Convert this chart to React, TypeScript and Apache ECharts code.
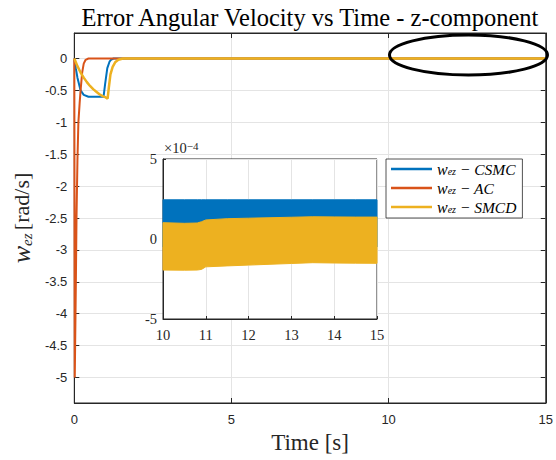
import React, { useEffect, useRef } from "react";
import * as echarts from "echarts";

// Main plot data (time in s, error angular velocity z-component in rad/s)
const tCSMC = [0, 0.05, 0.1, 0.2, 0.3, 0.45, 0.7, 0.93, 0.98, 1.05, 1.12, 1.18, 1.25, 15];
const wCSMC = [0, -0.16, -0.3, -0.5, -0.57, -0.6, -0.6, -0.6, -0.4, -0.15, -0.05, -0.015, 0, 0];

const tAC = [0, 0.015, 0.035, 0.05, 0.07, 0.1, 0.13, 0.17, 0.2, 0.25, 0.3, 0.36, 0.45, 15];
const wAC = [0, -5, -5, -3.5, -2.5, -1.6, -1.0, -0.7, -0.5, -0.22, -0.08, -0.02, 0, 0];

const tSMCD = [0, 0.1, 0.2, 0.3, 0.4, 0.5, 0.6, 0.7, 0.8, 0.9, 1.0, 1.06, 1.1, 1.15, 1.22, 1.3, 1.4, 1.55, 15];
const wSMCD = [0, -0.12, -0.22, -0.3, -0.37, -0.43, -0.48, -0.52, -0.56, -0.59, -0.61, -0.63, -0.45, -0.25, -0.13, -0.06, -0.02, 0, 0];

// Inset data (10..15 s), oscillation envelopes
const tInset = [10, 10.5, 10.8, 10.9, 11, 11.5, 12, 12.5, 13, 13.5, 14, 14.5, 15];
const csmcUpper = [2.45e-4, 2.45e-4, 2.45e-4, 2.45e-4, 2.45e-4, 2.45e-4, 2.45e-4, 2.45e-4, 2.45e-4, 2.45e-4, 2.45e-4, 2.45e-4, 2.45e-4];
const csmcLower = [-0.5e-4, -0.5e-4, -0.5e-4, -0.5e-4, -0.5e-4, -0.5e-4, -0.5e-4, -0.5e-4, -0.5e-4, -0.5e-4, -0.5e-4, -0.5e-4, -0.5e-4];
const smcdUpper = [1.02e-4, 0.98e-4, 1.0e-4, 1.08e-4, 1.19e-4, 1.27e-4, 1.3e-4, 1.33e-4, 1.36e-4, 1.39e-4, 1.38e-4, 1.37e-4, 1.37e-4];
const smcdLower = [-1.94e-4, -1.95e-4, -1.94e-4, -1.9e-4, -1.74e-4, -1.68e-4, -1.63e-4, -1.58e-4, -1.53e-4, -1.48e-4, -1.5e-4, -1.51e-4, -1.52e-4];

const xTicksMain = [0, 5, 10, 15];
const yTicksMain = [-5, -4.5, -4, -3.5, -3, -2.5, -2, -1.5, -1, -0.5, 0];
const insetXTicks = [10, 11, 12, 13, 14, 15];
const insetYTicks = [-5e-4, 0, 5e-4];

const legendLabels: Record<string, string> = { CSMC: "CSMC", AC: "AC", SMCD: "SMCD" };

const BLUE = "#0072BD";
const RED = "#D95319";
const YELLOW = "#EDB120";
const AXIS = "#262626";
const GRIDC = "#e4e4e4";

function zip(t: number[], v: number[]) {
  return t.map((x, i) => [x, v[i]]);
}

function bandSeries(name: string, upper: number[], lower: number[], color: string, z: number) {
  return {
    type: "custom",
    name,
    xAxisIndex: 2,
    yAxisIndex: 2,
    z,
    data: [[tInset[0], upper[0]]],
    encode: { x: 0, y: 1 },
    renderItem: (params: any, api: any) => {
      const pts: number[][] = [];
      for (let i = 0; i < tInset.length; i++) pts.push(api.coord([tInset[i], upper[i]]));
      for (let i = tInset.length - 1; i >= 0; i--) pts.push(api.coord([tInset[i], lower[i]]));
      return {
        type: "polygon",
        shape: { points: pts },
        style: { fill: color, stroke: color, lineWidth: 1 },
      };
    },
  };
}

export default function App() {
  const ref = useRef<HTMLDivElement>(null);
  useEffect(() => {
    document.body.style.margin = "0";
    if (!ref.current) return;
    const chart = echarts.init(ref.current, undefined, { renderer: "svg" });
    const serif = "Liberation Serif";
    const sans = "Liberation Sans";
    const option: any = {
      animation: false,
      backgroundColor: "#fff",
      title: {
        text: "Error Angular Velocity vs Time - z-component",
        left: 305,
        textAlign: "center",
        top: 0,
        textStyle: { fontFamily: serif, fontSize: 24.5, fontWeight: "normal", color: "#000" },
      },
      grid: [
        { left: 74, top: 33, width: 474, height: 370, show: true, borderColor: AXIS, borderWidth: 1, backgroundColor: "#fff", z: 0 },
        { left: 163, top: 159, width: 214, height: 160, show: true, borderColor: AXIS, borderWidth: 1, backgroundColor: "#fff", z: 5 },
      ],
      legend: {
        data: ["CSMC", "AC", "SMCD"],
        orient: "vertical",
        left: 386,
        top: 159,
        padding: [2, 6, 3, 5],
        itemGap: 3,
        itemWidth: 41,
        itemHeight: 2.5,
        icon: "rect",
        borderColor: AXIS,
        borderWidth: 0.8,
        backgroundColor: "#fff",
        z: 10,
        formatter: (name: string) => `{w|w}{s|ez}{t| − ${legendLabels[name]}}`,
        textStyle: {
          rich: {
            w: { fontFamily: serif, fontStyle: "italic", fontSize: 16, color: "#000", lineHeight: 15 },
            s: { fontFamily: serif, fontStyle: "italic", fontSize: 10, color: "#000", verticalAlign: "bottom", lineHeight: 15 },
            t: { fontFamily: serif, fontStyle: "italic", fontSize: 15.5, color: "#000", lineHeight: 15 },
          },
        },
      },
      xAxis: [
        {
          gridIndex: 0,
          type: "value",
          min: 0,
          max: 15,
          interval: 5,
          name: "Time [s]",
          nameLocation: "middle",
          nameGap: 24,
          nameTextStyle: { fontFamily: serif, fontSize: 23, color: AXIS },
          axisLine: { onZero: false, lineStyle: { color: AXIS } },
          axisTick: { inside: true, length: 5, lineStyle: { color: AXIS }, customValues: xTicksMain },
          axisLabel: { fontFamily: sans, fontSize: 13, color: AXIS, margin: 10, customValues: xTicksMain },
          splitLine: { show: true, lineStyle: { color: GRIDC } },
        },
        {
          gridIndex: 0,
          type: "value",
          position: "top",
          min: 0,
          max: 15,
          interval: 5,
          axisLine: { onZero: false, lineStyle: { color: AXIS } },
          axisTick: { inside: true, length: 5, lineStyle: { color: AXIS } },
          axisLabel: { show: false },
          splitLine: { show: false },
        },
        {
          gridIndex: 1,
          type: "value",
          min: 10,
          max: 15,
          interval: 1,
          z: 6,
          axisLine: { onZero: false, lineStyle: { color: AXIS } },
          axisTick: { inside: true, length: 3, lineStyle: { color: AXIS }, customValues: insetXTicks },
          axisLabel: { fontFamily: serif, fontSize: 14.5, color: AXIS, margin: 8, customValues: insetXTicks },
          splitLine: { show: true, lineStyle: { color: GRIDC } },
        },
      ],
      yAxis: [
        {
          gridIndex: 0,
          type: "value",
          min: -5.4,
          max: 0.4,
          name: "{w|w}{s|ez} {t|[rad/s]}",
          nameLocation: "middle",
          nameRotate: 90,
          nameGap: 36,
          nameTextStyle: {
            rich: {
              w: { fontFamily: serif, fontStyle: "italic", fontSize: 26, color: AXIS },
              s: { fontFamily: serif, fontStyle: "italic", fontSize: 15, color: AXIS, verticalAlign: "bottom" },
              t: { fontFamily: serif, fontSize: 22, color: AXIS },
            },
          },
          axisLine: { onZero: false, lineStyle: { color: AXIS } },
          axisTick: { inside: true, length: 5, lineStyle: { color: AXIS }, customValues: yTicksMain },
          axisLabel: { fontFamily: sans, fontSize: 13, color: AXIS, margin: 7, customValues: yTicksMain },
          splitLine: { show: true, lineStyle: { color: GRIDC } },
        },
        {
          gridIndex: 0,
          type: "value",
          position: "right",
          min: -5.4,
          max: 0.4,
          axisLine: { onZero: false, lineStyle: { color: AXIS } },
          axisTick: { inside: true, length: 5, lineStyle: { color: AXIS }, customValues: yTicksMain },
          axisLabel: { show: false },
          splitLine: { show: false },
        },
        {
          gridIndex: 1,
          type: "value",
          min: -5e-4,
          max: 5e-4,
          z: 6,
          axisLine: { onZero: false, lineStyle: { color: AXIS } },
          axisTick: { inside: true, length: 3, lineStyle: { color: AXIS }, customValues: insetYTicks },
          axisLabel: {
            fontFamily: serif,
            fontSize: 14.5,
            color: AXIS,
            margin: 6,
            customValues: insetYTicks,
            formatter: (v: number) => String(Math.round(v * 1e4)),
          },
          splitLine: { show: true, lineStyle: { color: GRIDC } },
        },
      ],
      series: [
        { type: "line", name: "CSMC", xAxisIndex: 0, yAxisIndex: 0, data: zip(tCSMC, wCSMC), showSymbol: false, symbol: "none", lineStyle: { color: BLUE, width: 2 }, itemStyle: { color: BLUE } },
        { type: "line", name: "AC", xAxisIndex: 0, yAxisIndex: 0, data: zip(tAC, wAC), showSymbol: false, symbol: "none", lineStyle: { color: RED, width: 2 }, itemStyle: { color: RED } },
        { type: "line", name: "SMCD", xAxisIndex: 0, yAxisIndex: 0, data: zip(tSMCD, wSMCD), showSymbol: false, symbol: "none", lineStyle: { color: YELLOW, width: 2.5 }, itemStyle: { color: YELLOW } },
        bandSeries("CSMC band", csmcUpper, csmcLower, BLUE, 7),
        bandSeries("SMCD band", smcdUpper, smcdLower, YELLOW, 8),
      ],
      graphic: [
        {
          type: "text",
          x: 164,
          y: 140,
          z: 20,
          style: {
            text: "{a|×10}{b|−4}",
            rich: {
              a: { fontFamily: serif, fontSize: 14.5, fill: AXIS, verticalAlign: "bottom" },
              b: { fontFamily: serif, fontSize: 11, fill: AXIS, verticalAlign: "top" },
            },
          },
        },
        {
          type: "ellipse",
          z: 100,
          shape: { cx: 468.5, cy: 55, rx: 79, ry: 20 },
          style: { fill: "none", stroke: "#000", lineWidth: 3 },
        },
      ],
    };
    chart.setOption(option);
    return () => chart.dispose();
  }, []);
  return <div ref={ref} style={{ width: 556, height: 460 }} />;
}
